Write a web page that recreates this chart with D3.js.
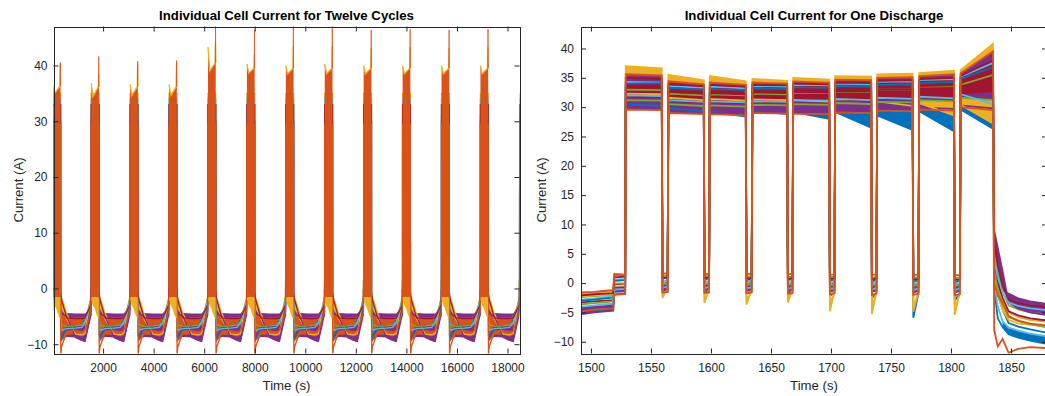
<!DOCTYPE html>
<html><head><meta charset="utf-8">
<script src="https://cdn.jsdelivr.net/npm/d3@7"></script>
<style>
body{margin:0;background:#fff}
svg{display:block}
text{font-family:"Liberation Sans",Arial,Helvetica,sans-serif}
</style></head>
<body><svg id="c" width="1045" height="396"></svg>
<script>
// ---------------- shared ----------------
const titles = ["Individual Cell Current for Twelve Cycles", "Individual Cell Current for One Discharge"];
const xLabel = "Time (s)";
const yLabel = "Current (A)";

// ---------------- left panel data ----------------
const leftXDomain = [38, 18475];
const leftYDomain = [-11.67, 47];
const leftXTicks = [2000, 4000, 6000, 8000, 10000, 12000, 14000, 16000, 18000];
const leftYTicks = [-10, 0, 10, 20, 30, 40];
// discharge start time of each cycle (s)
const cycleStarts = [10, 1530, 3070, 4610, 6150, 7690, 9230, 10770, 12310, 13850, 15390, 16930, 18480];
// top of the discharge block in each cycle (A)
const blockTopStart = [36.5, 36.8, 36.6, 36.6, 43.3, 40.3, 40.0, 40.3, 40.0, 40.0, 40.0, 40.0];
const blockTopMid   = [35.0, 34.4, 34.6, 34.6, 39.0, 38.6, 38.5, 38.5, 38.5, 38.5, 38.5, 38.5];
const blockTopEnd   = [36.3, 36.2, 36.2, 36.2, 40.5, 39.5, 39.5, 39.5, 39.5, 39.5, 39.5, 39.5];
const blockPeak     = [40.5, 41.6, 40.8, 40.9, 48.0, 46.4, 48.0, 48.0, 46.4, 46.5, 46.4, 46.5];
const blockYellowPeak = [40.4, 38.5, 40.3, 40.5, 44.2, 42.0, 43.4, 43.4, 43.2, 43.3, 43.2, 43.3];
const blockLow = -1.6;
const blockRelT = [0, 70, 290, 307];
const spikeRelT = [292, 299, 305];
const yellowTopRelT = [0, 70, 280, 296, 303];
// yellow tail under each discharge block
const tailRelT = [5, 60, 130, 200, 240, 300];
const tailLo = [-2.0, -3.0, -3.5, -4.6, -5.0, -5.5];
// charge-phase bands (relative to discharge start)
const leftBandRelT = [309, 330, 550, 900, 1150, 1290, 1500, 1529];
const leftPurpleLo = [-9.0, -9.2, -8.7, -8.8, -9.4, -9.6, -5.3, -4.7];
const leftPurpleHi = [-2.5, -3.5, -4.4, -4.5, -4.5, -4.5, -3.2, -2.8];
const leftOrangeLo = [-8.5, -8.5, -6.6, -6.6, -6.8, -6.6, -3.9, -3.4];
const leftOrangeHi = [-3.5, -4.5, -5.2, -5.2, -5.2, -5.0, -2.5, -2.0];
const leftOrangeLo2 = [-9.8, -9.6, -8.3, -8.3, -8.6, -8.4, -5.0, -4.4];
const leftOrangeHi2 = [-8.9, -9.0, -7.5, -7.5, -7.7, -7.5, -4.4, -3.9];
const leftYellowPostRelT = [309, 330, 450, 550, 650];
const leftYellowPostLo = [-3.2, -3.6, -4.6, -5.6, -6.2];
const leftYellowPostHi = [-0.8, -1.2, -2.6, -4.2, -5.2];
// one representative cell per colour, values at the relative times below
const leftRelT   = [-250, -40, -11, -10, -0.5, 0, 307, 309, 318, 345, 550, 900, 1150];
const leftBlue   = [-5.6, -4.3, -3.8, -1.8, -1.8, 31, 30, -3.0, -8.5, -9.0, -7.0, -6.9, -6.6];
const leftYellow = [-8.1, -2.0, -1.5, 1.5, 1.5, 35, 35, -2.5, -1.5, -2.2, -5.5, -8.2, -8.3];
const leftPurple = [-9.5, -5.2, -4.8, -1.5, -1.5, 30, 30, -1.5, -3.5, -4.5, -5.0, -8.8, -9.3];
const leftGreen  = [-5.9, -2.3, -2.0, 1.4, 1.4, 33, 33, -1.0, -5.0, -6.5, -6.8, -6.7, -6.6];
const leftCyan   = [-6.2, -2.7, -2.3, 0.6, 0.6, 34, 34, -1.5, -6.0, -7.5, -7.2, -7.1, -7.0];
const leftRed    = [-5.3, -3.2, -2.9, -0.2, -0.2, 33, 33, -0.5, -1.0, -2.0, -5.3, -5.4, -5.4];
const leftOrange = [-7.6, -4.6, -4.2, -1.9, -1.9, 29.5, 29.5, -2.0, -11.9, -10.5, -7.8, -7.6, -7.8];

// ---------------- right panel data ----------------
const rightXDomain = [1491.7, 1880];
const rightYDomain = [-12, 43.75];
const rightXTicks = [1500, 1550, 1600, 1650, 1700, 1750, 1800, 1850];
const rightYTicks = [-10, -5, 0, 5, 10, 15, 20, 25, 30, 35, 40];
const rPreT = [1492, 1503, 1512, 1518.5];
const rRestT = [1519.5, 1528.5];
const rPulseStart = [1529, 1564.5, 1599, 1634.5, 1668.5, 1703.5, 1738.5, 1773.5, 1808];
const rPulseEnd   = [1559, 1594, 1629, 1663.5, 1698.5, 1733.5, 1768, 1802.5, 1835];
const rPostT = [1836, 1839, 1843, 1848, 1856, 1866, 1881];
const rNames = ["blue1","yellow1","purple1","green1","cyan1","red1","blue2","yellow2","purple2","green2","cyan2","red2","orange1","orange2"];
const rPre = [
 [-5.2,-4.8,-4.6,-4.4],[-1.9,-1.7,-1.5,-1.4],[-5.3,-5,-4.8,-4.7],[-2.4,-2.2,-2.1,-2],
 [-2.8,-2.6,-2.4,-2.3],[-3.3,-3.1,-3,-2.9],[-3,-2.8,-2.6,-2.5],[-2.3,-2.1,-2,-1.9],
 [-4.2,-4,-3.9,-3.7],[-3.6,-3.4,-3.3,-3.1],[-4,-3.8,-3.6,-3.5],[-2.1,-1.9,-1.8,-1.7],
 [-4.8,-4.5,-4.4,-4.3],[-1.6,-1.5,-1.3,-1.2]];
const rRest = [[-1.9,-1.8],[1.6,1.5],[-1.5,-1.4],[1.4,1.3],[0.6,0.7],[-0.2,-0.1],[0.4,0.5],
 [-0.6,-0.5],[-0.8,-0.7],[-0.1,0],[-1.1,-1],[1,1.1],[-2,-1.9],[1.5,1.4]];
// start/end level of each of the nine pulses
const rPulse = [
 [30.5,30.2, 29.8,29.3, 29.3,28.4, 29.4,28.8, 29.2,28.0, 29.2,26.5, 28.6,26.1, 29.3,25.9, 29.6,26.3],
 [37,36.6, 35.5,34.6, 35.3,34.4, 34.8,34.5, 35,34.7, 35.3,35.2, 35.6,35.7, 35.8,36.2, 36.3,40.8],
 [29.9,29.8, 29.2,29, 29,28.8, 29.2,29.1, 29.1,29, 29.4,29.3, 29.7,29.6, 29.9,29.7, 30.3,29.8],
 [33,32.9, 32.3,32, 32.2,32, 32.3,32.2, 32.5,32.4, 32.7,32.6, 33,33, 33.3,33.4, 33.8,35.5],
 [34.3,34.2, 33.6,33.3, 33.5,33.2, 33.6,33.5, 33.8,33.7, 34,33.9, 34.3,34.4, 34.6,34.8, 35.2,37.5],
 [33.5,33.4, 32.6,32.3, 32.4,32.2, 32.5,32.4, 32.6,32.5, 32.8,32.7, 33,33, 33.2,33.3, 33.6,34.5],
 [34,34.1, 33.3,33, 33.1,32.9, 33.2,33.1, 33.4,33.3, 33.6,33.5, 33.8,33.9, 34.1,34.3, 34.8,36.8],
 [32.3,32.2, 31.6,31.2, 31.4,31.1, 31.3,31.2, 31.2,30.9, 31.1,30.6, 31,30.2, 30.7,28.6, 30.4,27.2],
 [31.5,31.4, 30.8,30.5, 30.6,30.4, 30.6,30.5, 30.7,30.6, 31,30.8, 31.2,31.1, 31.5,31.4, 32,32.4],
 [31.2,31.1, 30.5,30.2, 30.3,30.1, 30.4,30.3, 30.5,30.4, 30.7,30.5, 30.9,30.8, 31.2,31, 31.6,31.2],
 [32,31.9, 31.2,30.9, 31,30.8, 31,30.9, 31.2,31.1, 31.4,31.2, 31.6,31.4, 31.8,31.5, 32.2,30.5],
 [35,34.8, 33.9,33.6, 33.8,33.5, 33.8,33.7, 34,33.9, 34.2,34.1, 34.5,34.6, 34.8,35, 35.3,38],
 [29.6,29.5, 29,28.8, 28.8,28.6, 29,28.9, 28.9,28.8, 29.1,29, 29.4,29.3, 29.6,29.4, 30,29.5],
 [35.6,35.4, 34.4,33.9, 34.2,33.8, 34.2,34, 34.4,34.2, 34.7,34.6, 35,35.1, 35.3,35.6, 35.8,39.5]];
// level just after each pulse (early) and just before the next one (late)
const rGapEarly = [
 [-1.2,-1.5,-1.8,-1.6,-2.2,-2.6,-5.9,-3.0],[-2.5,-3.4,-3.7,-3.3,-4.8,-5.3,-4.9,-5.4],
 [-1.3,-1.3,-1.4,-1.4,-1.5,-1.5,-1.6,-1.6],[1.2,1.1,1.1,1.0,1.0,0.9,0.9,0.8],
 [0.3,0.2,0.2,0.1,0,-0.1,-0.2,-0.3],[-0.3,-0.4,-0.4,-0.5,-0.5,-0.6,-0.7,-0.7],
 [0.8,0.6,0.5,0.5,0.4,0.3,0.2,0.1],[-1.8,-2.6,-2.9,-2.6,-3.6,-4.1,-4,-4.4],
 [-0.5,-0.6,-0.6,-0.7,-0.7,-0.8,-0.8,-0.9],[-0.2,-0.2,-0.3,-0.3,-0.4,-0.4,-0.5,-0.5],
 [-0.8,-0.9,-0.9,-1,-1,-1.1,-1.2,-1.2],[0.9,0.8,0.8,0.7,0.7,0.6,0.6,0.5],
 [-1.6,-1.7,-1.7,-1.8,-1.9,-2,-2,-2.1],[1.6,1.5,1.5,1.5,1.4,1.4,1.3,1.3]];
const rGapLate = [
 [-1.4,-1.4,-1.5,-1.5,-1.6,-1.6,-1.7,-1.7],[-0.8,-1,-1,-1,-1.2,-1.3,-1.3,-1.4],
 [-1,-1,-1.1,-1.1,-1.2,-1.2,-1.3,-1.3],[1.3,1.3,1.2,1.2,1.1,1.1,1.0,1.0],
 [0.4,0.4,0.3,0.3,0.2,0.2,0.1,0.1],[0.2,0.1,0.1,0,0,-0.1,-0.1,-0.2],
 [0.9,0.8,0.7,0.7,0.6,0.6,0.5,0.5],[-1.3,-1.4,-1.5,-1.5,-1.6,-1.7,-1.8,-1.8],
 [-0.3,-0.3,-0.4,-0.4,-0.5,-0.5,-0.6,-0.6],[0,0,-0.1,-0.1,-0.1,-0.2,-0.2,-0.2],
 [-0.6,-0.6,-0.7,-0.7,-0.8,-0.8,-0.9,-0.9],[1,1,0.9,0.9,0.8,0.8,0.7,0.7],
 [-1.5,-1.6,-1.6,-1.7,-1.7,-1.8,-1.8,-1.9],[1.7,1.6,1.6,1.6,1.5,1.5,1.5,1.4]];
const rPost = [
 [-1,-6,-7.5,-8.7,-9.3,-9.8,-10.4],[3,0,-3,-5,-5.8,-6.3,-6.6],[3,0,-1.2,-1.8,-2.6,-3.1,-3.6],
 [5,2,-1.5,-3.8,-4.5,-5,-5.4],[0,-4,-6.5,-7.6,-8.1,-8.6,-9.1],[3,0,-2.5,-4.8,-5.5,-6,-6.4],
 [2,-2,-4.5,-6.8,-7.4,-7.9,-8.5],[1,-2,-4.5,-6.3,-6.9,-7.1,-7.3],[9,6,2,-3.3,-4.3,-5,-5.5],
 [2,-1,-3.5,-5.8,-6.5,-7,-7.6],[4,1,-1.5,-3.3,-3.9,-4.3,-4.6],[7,3,-0.5,-2.8,-3.4,-3.8,-4.1],
 [-8,-10.8,-9.5,-11.9,-11.2,-10.9,-11.1],[0,-2,-3.5,-5.6,-6.4,-6.9,-7.2]];

// ---------------- styles ----------------
const C = {blue:"#0072BD", orange:"#D95319", yellow:"#EDB120", purple:"#7E2F8E", green:"#77AC30", cyan:"#4DBEEE", red:"#A2142F"};
const rColorOf = n => C[n.replace(/[0-9]/g, "")];
const AX = "#262626";

const svg = d3.select("#c");
const defs = svg.append("defs");

function panel(id, box, xDom, yDom, xTicks, yTicks, title, ylabX) {
  const x = d3.scaleLinear().domain(xDom).range([box.x0, box.x1]);
  const y = d3.scaleLinear().domain(yDom).range([box.y1, box.y0]);
  defs.append("clipPath").attr("id", id).append("rect")
    .attr("x", box.x0).attr("y", box.y0).attr("width", box.x1 - box.x0).attr("height", box.y1 - box.y0);
  const plot = svg.append("g").attr("clip-path", `url(#${id})`);
  const axesG = svg.append("g");
  return {x, y, plot, draw() {
    const style = g => { g.select(".domain").remove();
      g.selectAll(".tick line").attr("stroke", AX);
      g.selectAll("text").attr("fill", AX).style("font-size", "12px").style("font-family", '"Liberation Sans",Arial,sans-serif'); };
    axesG.append("g").attr("transform", `translate(0,${box.y1})`)
      .call(d3.axisBottom(x).tickValues(xTicks).tickSize(-5).tickPadding(10).tickFormat(d3.format("d"))).call(style);
    axesG.append("g").attr("transform", `translate(0,${box.y0})`)
      .call(d3.axisTop(x).tickValues(xTicks).tickSize(-5).tickFormat("")).call(style);
    axesG.append("g").attr("transform", `translate(${box.x0},0)`)
      .call(d3.axisLeft(y).tickValues(yTicks).tickSize(-5).tickPadding(ylabX.pad)).call(style);
    axesG.append("g").attr("transform", `translate(${box.x1},0)`)
      .call(d3.axisRight(y).tickValues(yTicks).tickSize(-5).tickFormat("")).call(style);
    axesG.append("rect").attr("x", Math.round(box.x0) + 0.5).attr("y", Math.round(box.y0) + 0.5)
      .attr("width", Math.round(box.x1) - Math.round(box.x0)).attr("height", Math.round(box.y1) - Math.round(box.y0))
      .attr("fill", "none").attr("stroke", AX).attr("stroke-width", 1);
    const cx = (box.x0 + Math.min(box.x1, 1047)) / 2;
    svg.append("text").attr("x", cx).attr("y", 19.5).attr("text-anchor", "middle")
      .style("font-size", "13.2px").style("font-weight", "bold").attr("fill", "#000").text(title);
    svg.append("text").attr("x", cx).attr("y", 389.5).attr("text-anchor", "middle")
      .style("font-size", "13.2px").attr("fill", AX).text(xLabel);
    svg.append("text").attr("transform", `translate(${ylabX.x},${(box.y0 + box.y1) / 2}) rotate(-90)`)
      .attr("text-anchor", "middle").style("font-size", "13.2px").attr("fill", AX).text(yLabel);
  }};
}

// ================= LEFT =================
const L = panel("clipL", {x0:53.5, x1:519.5, y0:26.5, y1:353.5}, leftXDomain, leftYDomain, leftXTicks, leftYTicks, titles[0], {x:23, pad:6});
const lineL = d3.line().x(d => L.x(d.t)).y(d => L.y(d.v));
const areaL = d3.area().x(d => L.x(d.t)).y0(d => L.y(d.lo)).y1(d => L.y(d.hi));
const nBlocks = blockTopStart.length;

function leftBand(relT, lo, hi, color) {
  cycleStarts.slice(0, nBlocks).forEach(s => {
    const pts = relT.map((r, j) => ({t: s + r, lo: lo[j], hi: Array.isArray(hi) ? hi[j] : hi}));
    L.plot.append("path").attr("d", areaL(pts)).attr("fill", color);
  });
}
leftBand(leftBandRelT, leftPurpleLo, leftPurpleHi, C.purple);
leftBand(leftBandRelT, leftOrangeLo, leftOrangeHi, C.orange);
leftBand(leftBandRelT, leftOrangeLo2, leftOrangeHi2, C.orange);
leftBand(leftYellowPostRelT, leftYellowPostLo, leftYellowPostHi, C.yellow);

const leftSeries = [[leftBlue, C.blue], [leftYellow, C.yellow], [leftPurple, C.purple], [leftGreen, C.green],
  [leftCyan, C.cyan], [leftRed, C.red], [leftOrange, C.orange]];
leftSeries.forEach(([vals, color]) => {
  const pts = [];
  cycleStarts.forEach(s => leftRelT.forEach((r, j) => pts.push({t: s + r, v: vals[j]})));
  L.plot.append("path").attr("d", lineL(pts)).attr("fill", "none").attr("stroke", color).attr("stroke-width", 1.3);
});

cycleStarts.slice(0, nBlocks).forEach((s, k) => {
  L.plot.append("path").attr("d", areaL(tailRelT.map((r, j) => ({t: s + r, lo: tailLo[j], hi: blockLow}))))
    .attr("fill", C.yellow);
  const tops = [blockTopStart[k], blockTopMid[k], blockTopEnd[k], blockTopEnd[k]];
  L.plot.append("path").attr("d", areaL(blockRelT.map((r, j) => ({t: s + r, lo: blockLow, hi: tops[j]}))))
    .attr("fill", C.orange);
  const yv = [blockTopStart[k], blockTopMid[k], blockTopEnd[k], blockYellowPeak[k], blockTopEnd[k]];
  L.plot.append("path").attr("d", lineL(yellowTopRelT.map((r, j) => ({t: s + r, v: yv[j]}))))
    .attr("fill", "none").attr("stroke", C.yellow).attr("stroke-width", 1.3);
  const sv = [blockTopEnd[k], blockPeak[k], blockTopEnd[k]];
  L.plot.append("path").attr("d", lineL(spikeRelT.map((r, j) => ({t: s + r, v: sv[j]}))))
    .attr("fill", "none").attr("stroke", C.orange).attr("stroke-width", 1).attr("stroke-opacity", 0.75);
});
L.draw();

// ================= RIGHT =================
const R = panel("clipR", {x0:581, x1:1047, y0:26.5, y1:353.5}, rightXDomain, rightYDomain, rightXTicks, rightYTicks, titles[1], {x:546, pad:7});
const lineR = d3.line().x(d => R.x(d.t)).y(d => R.y(d.v));
const areaR = d3.area().x(d => R.x(d.t)).y0(d => R.y(d.lo)).y1(d => R.y(d.hi));

function rPoints(i) {
  const pts = [];
  rPreT.forEach((t, j) => pts.push({t, v: rPre[i][j]}));
  rRestT.forEach((t, j) => pts.push({t, v: rRest[i][j]}));
  for (let k = 0; k < rPulseStart.length; k++) {
    pts.push({t: rPulseStart[k], v: rPulse[i][2 * k], k});
    pts.push({t: rPulseEnd[k], v: rPulse[i][2 * k + 1], k});
    if (k < rPulseStart.length - 1) {
      pts.push({t: rPulseEnd[k] + 0.6, v: rGapEarly[i][k]});
      pts.push({t: rPulseStart[k + 1] - 0.6, v: rGapLate[i][k]});
    }
  }
  rPostT.forEach((t, j) => pts.push({t, v: rPost[i][j]}));
  return pts;
}
const rPts = rNames.map((n, i) => rPoints(i));
const idx = n => rNames.indexOf(n);
const allPulses = [0, 1, 2, 3, 4, 5, 6, 7, 8];

function rBand(loName, hiName, color, filter) {
  const lo = rPts[idx(loName)], hi = rPts[idx(hiName)];
  const pts = lo.map((p, j) => ({t: p.t, lo: p.v, hi: hi[j].v, k: p.k}));
  if (filter.pulses) {
    filter.pulses.forEach(k => {
      R.plot.append("path").attr("d", areaR(pts.filter(p => p.k === k))).attr("fill", color);
    });
  } else {
    R.plot.append("path").attr("d", areaR(pts.filter(p => p.t >= filter.from))).attr("fill", color);
  }
}
rBand("orange1", "orange2", C.purple, {pulses: allPulses});
rBand("purple2", "cyan1", C.red, {pulses: allPulses});
rBand("purple1", "purple2", C.purple, {from: 0});
rBand("blue1", "purple1", C.blue, {pulses: [4, 5, 6, 7, 8]});
rBand("orange2", "yellow1", C.yellow, {pulses: allPulses});
rBand("yellow2", "green2", C.yellow, {pulses: [7, 8]});
rBand("blue1", "cyan1", C.blue, {from: 1843});

rNames.forEach((n, i) => {
  R.plot.append("path").attr("d", lineR(rPts[i])).attr("fill", "none")
    .attr("stroke", rColorOf(n)).attr("stroke-width", 1.8);
});
R.draw();
</script>
</body></html>
